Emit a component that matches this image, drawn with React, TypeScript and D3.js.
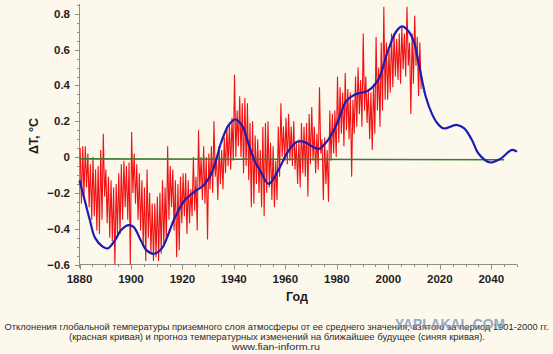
import React from "react";
import * as d3 from "d3";

// observed record, read per year as upper / lower swing of the monthly values
const redStart = 1880;
const redHigh = [
  0.05, 0.06, 0.06, 0.02, -0.04, 0.0, -0.07, -0.05, 0.04, 0.13,
  -0.07, -0.11, -0.13, -0.17, -0.15, -0.09, -0.04, -0.02, -0.05, -0.03,
  0.14, 0.02, -0.04, -0.09, -0.13, -0.17, -0.07, -0.2, -0.26, -0.26,
  -0.22, -0.2, -0.13, -0.17, 0.06, -0.05, -0.07, -0.13, -0.15, -0.11,
  -0.09, -0.09, -0.13, -0.18, 0.0, -0.11, 0.15, 0.0, 0.06, 0.0,
  0.02, 0.06, 0.2, 0.0, 0.06, 0.04, 0.11, 0.17, 0.19, 0.22,
  0.46, 0.26, 0.34, 0.3, 0.33, 0.3, 0.19, 0.2, 0.12, 0.1,
  0.04, 0.17, 0.19, 0.2, 0.08, 0.06, -0.02, 0.17, 0.3, 0.17,
  0.22, 0.24, 0.17, 0.2, 0.08, 0.1, 0.19, 0.17, 0.19, 0.24,
  0.28, 0.17, 0.13, 0.39, 0.1, 0.11, 0.04, 0.26, 0.24, 0.26,
  0.45, 0.39, 0.36, 0.47, 0.38, 0.36, 0.32, 0.45, 0.5, 0.43,
  0.69, 0.45, 0.38, 0.36, 0.41, 0.67, 0.5, 0.64, 0.84, 0.64,
  0.6, 0.69, 0.69, 0.66, 0.69, 0.73, 0.69, 0.84, 0.64, 0.69,
  0.79, 0.67, 0.64,
];
const redLow = [
  -0.26, -0.22, -0.17, -0.28, -0.35, -0.33, -0.41, -0.43, -0.35, -0.22,
  -0.37, -0.45, -0.47, -0.6, -0.43, -0.43, -0.35, -0.28, -0.35, -0.6,
  -0.2, -0.26, -0.35, -0.41, -0.5, -0.58, -0.45, -0.54, -0.58, -0.56,
  -0.58, -0.54, -0.5, -0.47, -0.35, -0.28, -0.41, -0.56, -0.52, -0.37,
  -0.33, -0.43, -0.37, -0.33, -0.3, -0.41, -0.18, -0.24, -0.26, -0.46,
  -0.18, -0.2, -0.11, -0.24, -0.15, -0.18, -0.09, -0.05, -0.07, -0.02,
  0.0, 0.06, 0.0, -0.09, -0.05, -0.13, -0.28, -0.26, -0.15, -0.2,
  -0.28, -0.33, -0.2, -0.17, -0.24, -0.28, -0.24, -0.11, 0.0, -0.02,
  -0.04, -0.02, -0.05, -0.07, -0.15, -0.17, -0.09, -0.11, -0.22, -0.04,
  -0.02, -0.09, -0.07, 0.02, -0.24, -0.15, -0.25, -0.02, 0.02, 0.0,
  0.08, 0.13, 0.06, 0.15, 0.1, -0.11, 0.13, 0.17, 0.24, 0.17,
  0.26, 0.19, 0.1, 0.04, 0.13, 0.26, 0.17, 0.26, 0.32, 0.32,
  0.36, 0.39, 0.45, 0.43, 0.41, 0.49, 0.45, 0.51, 0.24, 0.41,
  0.51, 0.34, 0.38,
];

// forecast curve
const blueYears = [
  1880, 1882, 1884, 1886, 1889, 1891, 1894, 1896, 1899, 1901, 1904, 1906,
  1909, 1912, 1914, 1917, 1921, 1925, 1928, 1931, 1933, 1935, 1938, 1940.5,
  1943, 1946, 1948, 1950, 1953.5, 1957, 1961, 1964.5, 1967, 1971, 1973, 1976,
  1979.5, 1981.5, 1983.5, 1987, 1992, 1996, 2000, 2003, 2005.3, 2008, 2010,
  2012, 2014.5, 2017, 2019, 2021.5, 2026.5, 2029.5, 2032.5, 2035, 2039.5,
  2043.5, 2048, 2050,
];
const blueValues = [
  -0.13, -0.24, -0.35, -0.45, -0.5, -0.51, -0.46, -0.41, -0.38, -0.39, -0.47,
  -0.52, -0.54, -0.51, -0.45, -0.34, -0.24, -0.19, -0.16, -0.1, -0.02, 0.08,
  0.18, 0.21, 0.18, 0.06, -0.02, -0.07, -0.15, -0.08, 0.03, 0.085, 0.086,
  0.055, 0.045, 0.085, 0.17, 0.24, 0.31, 0.35, 0.37, 0.43, 0.6, 0.7, 0.73,
  0.7, 0.64, 0.51, 0.34, 0.24, 0.19, 0.16, 0.18, 0.16, 0.095, 0.02, -0.03,
  -0.01, 0.04, 0.03,
];

// reference (mean) line
const greenYears = [1880, 2045];
const greenValues = [-0.01, -0.015];

const xTicks = [1880, 1900, 1920, 1940, 1960, 1980, 2000, 2020, 2040];
const yTicks = [-0.6, -0.4, -0.2, 0, 0.2, 0.4, 0.6, 0.8];

const captionLines = [
  "Отклонения глобальной температуры приземного слоя атмосферы от ее среднего значения, взятого за период 1901-2000 гг.",
  "(красная кривая) и прогноз температурных изменений на ближайшее будущее (синяя кривая).",
  "www.fian-inform.ru",
];

const W = 553;
const H = 354;

export default function App() {
  const x = d3.scaleLinear().domain([1880, 2050]).range([79.5, 517]);
  const y = d3.scaleLinear().domain([-0.6, 0.855]).range([264.5, 4]);

  const redPts: [number, number][] = [];
  redHigh.forEach((h, i) => {
    redPts.push([redStart + i + 0.25, h]);
    redPts.push([redStart + i + 0.75, redLow[i]]);
  });

  const ln = d3
    .line<[number, number]>()
    .x((d) => x(d[0]))
    .y((d) => y(d[1]));
  const smooth = d3
    .line<[number, number]>()
    .x((d) => x(d[0]))
    .y((d) => y(d[1]))
    .curve(d3.curveCatmullRom.alpha(0.5));

  const bluePts = blueYears.map((yr, i) => [yr, blueValues[i]] as [number, number]);
  const greenPts = greenYears.map((yr, i) => [yr, greenValues[i]] as [number, number]);

  const xMinor = d3.range(1880, 2051, 5).filter((v) => !xTicks.includes(v));
  const yMinor = d3.range(-0.6, 0.851, 0.05).filter(
    (v) => !yTicks.some((t) => Math.abs(t - v) < 1e-6)
  );

  const axisCol = "#8c8c8c";
  const labelFont = "'Liberation Sans', Arial, sans-serif";

  return (
    <svg
      width={W}
      height={H}
      style={{ position: "absolute", left: 0, top: 0, display: "block" }}
    >
      <rect width={W} height={H} fill="#fdf8ec" />

      {/* axes */}
      <g stroke={axisCol} strokeWidth={1} fill="none">
        <line x1={79.5} x2={79.5} y1={4} y2={268} />
        <line x1={79.5} x2={517} y1={264.5} y2={264.5} />
        {yTicks.map((t) => (
          <line key={"ym" + t} x1={75} x2={79.5} y1={Math.round(y(t)) + 0.5} y2={Math.round(y(t)) + 0.5} />
        ))}
        {yMinor.map((t) => (
          <line key={"yn" + t} x1={77} x2={79.5} y1={Math.round(y(t)) + 0.5} y2={Math.round(y(t)) + 0.5} />
        ))}
        {xTicks.map((t) => (
          <line key={"xm" + t} x1={Math.round(x(t)) + 0.5} x2={Math.round(x(t)) + 0.5} y1={264.5} y2={269.5} />
        ))}
        {xMinor.map((t) => (
          <line key={"xn" + t} x1={Math.round(x(t)) + 0.5} x2={Math.round(x(t)) + 0.5} y1={264.5} y2={267} />
        ))}
      </g>

      {/* tick labels */}
      <g fontFamily={labelFont} fontWeight="bold" fontSize={11.5} fill="#1e1e1e">
        {yTicks.map((t) => (
          <text key={"yl" + t} x={70} y={y(t)} textAnchor="end" dominantBaseline="central">
            {t === 0 ? "0" : d3.format(".1f")(t)}
          </text>
        ))}
        {xTicks.map((t) => (
          <text key={"xl" + t} x={x(t)} y={283} textAnchor="middle">
            {t}
          </text>
        ))}
      </g>

      <text
        x={297}
        y={301}
        textAnchor="middle"
        fontFamily={labelFont}
        fontWeight="bold"
        fontSize={12.5}
        fill="#1e1e1e"
      >
        Год
      </text>
      <text
        transform={`translate(34,136) rotate(-90)`}
        textAnchor="middle"
        dominantBaseline="central"
        fontFamily={labelFont}
        fontWeight="bold"
        fontSize={12.5}
        fill="#1e1e1e"
      >
        ΔT, °C
      </text>

      {/* data */}
      <path d={ln(redPts) ?? ""} fill="none" stroke="#f01212" strokeWidth={1.1} strokeLinejoin="miter" />
      <path d={ln(greenPts) ?? ""} fill="none" stroke="#3d7b31" strokeWidth={1.6} />
      <path d={smooth(bluePts) ?? ""} fill="none" stroke="#1c1cb0" strokeWidth={2.2} />

      {/* caption */}
      <g fontFamily={labelFont} fontSize={9.4} fill="#2a2a2a">
        <text x={276.5} y={330} textAnchor="middle" textLength={544} lengthAdjust="spacingAndGlyphs">
          {captionLines[0]}
        </text>
        <text x={277} y={340} textAnchor="middle" textLength={416} lengthAdjust="spacingAndGlyphs">
          {captionLines[1]}
        </text>
        <text x={276} y={350} textAnchor="middle" textLength={88} lengthAdjust="spacingAndGlyphs">
          {captionLines[2]}
        </text>
      </g>
      <text
        x={395}
        y={329}
        fontFamily={labelFont}
        fontWeight="bold"
        fontSize={15}
        fill="#7f97b8"
        opacity={0.8}
        textLength={110}
        lengthAdjust="spacingAndGlyphs"
      >
        YAPLAKAL.COM
      </text>
    </svg>
  );
}
